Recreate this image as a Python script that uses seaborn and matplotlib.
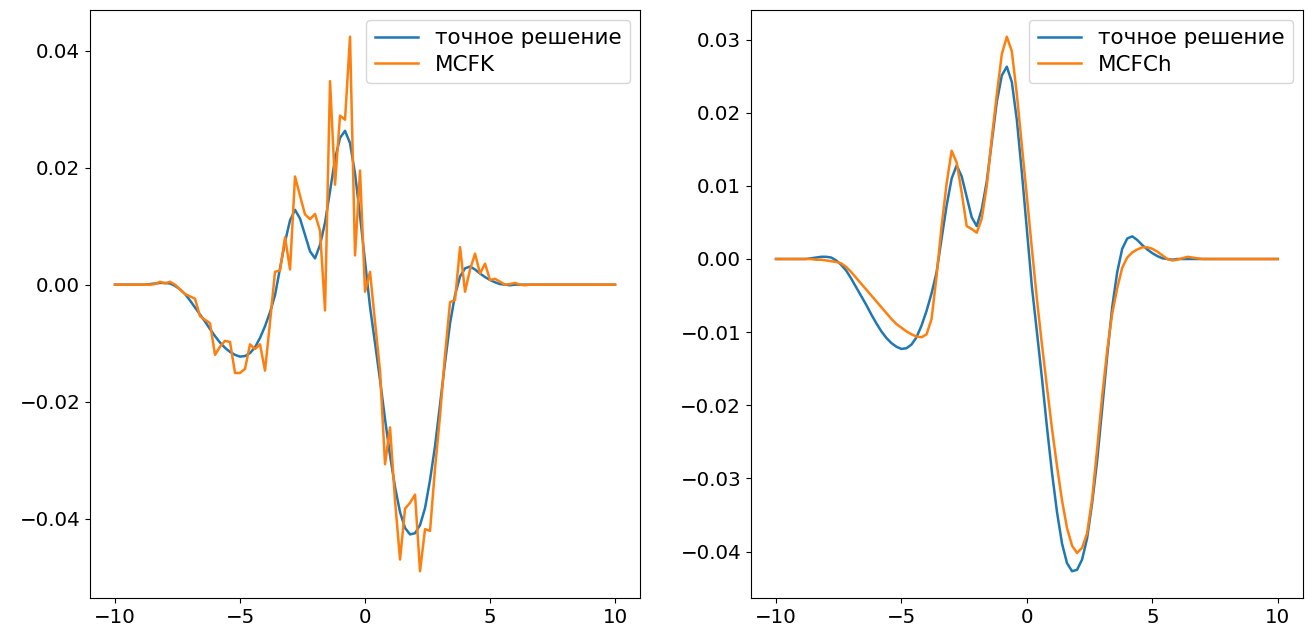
import numpy as np
import pandas as pd
import matplotlib
matplotlib.use("Agg")
import matplotlib.pyplot as plt
import seaborn as sns

# grid on [-10, 10] with step 0.2
x = np.round(np.linspace(-10, 10, 101), 2)

# exact solution
exact = [
    0, 0, 0, 0, 0, 0, 0, 0.0001, 0.0002, 0.0003,            # -10.0 .. -8.2
    0.0003, 0.0002, -0.0002, -0.0008, -0.0016, -0.0027,     # -8.0 .. -7.0
    -0.0039, -0.0051, -0.0063, -0.0076, -0.0088,            # -6.8 .. -6.0
    -0.0099, -0.0108, -0.0115, -0.0120, -0.0123,            # -5.8 .. -5.0
    -0.0122, -0.0117, -0.0107, -0.0091, -0.0071,            # -4.8 .. -4.0
    -0.0047, -0.0018, 0.0028, 0.0073, 0.0110,               # -3.8 .. -3.0
    0.0128, 0.0113, 0.0085, 0.0057, 0.0045,                 # -2.8 .. -2.0
    0.0068, 0.0106, 0.0160, 0.0215, 0.0251,                 # -1.8 .. -1.0
    0.0263, 0.0242, 0.0190, 0.0118, 0.0040,                 # -0.8 .. 0.0
    -0.0038, -0.0100, -0.0163, -0.0230, -0.0292,            # 0.2 .. 1.0
    -0.0346, -0.0389, -0.0416, -0.0427, -0.0425,            # 1.2 .. 2.0
    -0.0411, -0.0382, -0.0334, -0.0276, -0.0205,            # 2.2 .. 3.0
    -0.0133, -0.0066, -0.0018, 0.0014, 0.0028,              # 3.2 .. 4.0
    0.0031, 0.0026, 0.0019, 0.0013, 0.0008,                 # 4.2 .. 5.0
    0.0004, 0.0001, 0.0, -0.0001, 0.0,                      # 5.2 .. 6.0
    0, 0, 0, 0, 0, 0, 0, 0, 0, 0,                           # 6.2 .. 8.0
    0, 0, 0, 0, 0, 0, 0, 0, 0, 0,                           # 8.2 .. 10.0
]

# MCFK approximation
mcfk = [
    0, 0, 0, 0, 0, 0, 0, 0, 0.0001, 0.0005,                 # -10.0 .. -8.2
    0.0002, 0.0005, 0.0, -0.0008, -0.0016, -0.0020,         # -8.0 .. -7.0
    -0.0024, -0.0054, -0.0060, -0.0066, -0.0120,            # -6.8 .. -6.0
    -0.0106, -0.0096, -0.0098, -0.0151, -0.0151,            # -5.8 .. -5.0
    -0.0144, -0.0102, -0.0110, -0.0102, -0.0147,            # -4.8 .. -4.0
    -0.0064, 0.0022, 0.0024, 0.0081, 0.0026,                # -3.8 .. -3.0
    0.0185, 0.0152, 0.0120, 0.0112, 0.0121,                 # -2.8 .. -2.0
    0.0092, -0.0044, 0.0348, 0.0171, 0.0289,                # -1.8 .. -1.0
    0.0282, 0.0424, 0.0050, 0.0195, -0.0012,                # -0.8 .. 0.0
    0.0022, -0.0064, -0.0147, -0.0307, -0.0244,             # 0.2 .. 1.0
    -0.0369, -0.0470, -0.0383, -0.0373, -0.0359,            # 1.2 .. 2.0
    -0.0490, -0.0418, -0.0421, -0.0314, -0.0224,            # 2.2 .. 3.0
    -0.0120, -0.0030, -0.0026, 0.0064, -0.0012,             # 3.2 .. 4.0
    0.0026, 0.0053, 0.0019, 0.0036, 0.0008,                 # 4.2 .. 5.0
    0.0010, 0.0005, 0.0, 0.0001, 0.0003,                    # 5.2 .. 6.0
    0.0, -0.0001, 0, 0, 0, 0, 0, 0, 0, 0,                   # 6.2 .. 8.0
    0, 0, 0, 0, 0, 0, 0, 0, 0, 0,                           # 8.2 .. 10.0
]

# MCFCh approximation
mcfch = [
    0, 0, 0, 0, 0, 0, 0, 0, -0.0001, -0.0001,               # -10.0 .. -8.2
    -0.0002, -0.0003, -0.0004, -0.0006, -0.0011, -0.0018,   # -8.0 .. -7.0
    -0.0026, -0.0034, -0.0042, -0.0050, -0.0058,            # -6.8 .. -6.0
    -0.0066, -0.0074, -0.0082, -0.0089, -0.0094,            # -5.8 .. -5.0
    -0.0099, -0.0103, -0.0106, -0.0107, -0.0103,            # -4.8 .. -4.0
    -0.0082, -0.0023, 0.0045, 0.0103, 0.0148,               # -3.8 .. -3.0
    0.0132, 0.0091, 0.0045, 0.0041, 0.0036,                 # -2.8 .. -2.0
    0.0055, 0.0100, 0.0165, 0.0225, 0.0280,                 # -1.8 .. -1.0
    0.0304, 0.0284, 0.0225, 0.0155, 0.0085,                 # -0.8 .. 0.0
    0.0014, -0.0055, -0.0117, -0.0175, -0.0232,             # 0.2 .. 1.0
    -0.0283, -0.0330, -0.0368, -0.0392, -0.0402,            # 1.2 .. 2.0
    -0.0395, -0.0375, -0.0328, -0.0260, -0.0188,            # 2.2 .. 3.0
    -0.0125, -0.0075, -0.0040, -0.0012, 0.0002,             # 3.2 .. 4.0
    0.0009, 0.0013, 0.0016, 0.0016, 0.0014,                 # 4.2 .. 5.0
    0.0010, 0.0005, 0.0, -0.0002, -0.0001,                  # 5.2 .. 6.0
    0.0001, 0.0003, 0.0002, 0.0001, 0, 0, 0, 0, 0, 0,       # 6.2 .. 8.0
    0, 0, 0, 0, 0, 0, 0, 0, 0, 0,                           # 8.2 .. 10.0
]

exact_label = "точное решение"
panels = [("MCFK", mcfk), ("MCFCh", mcfch)]
colors = ["#1f77b4", "#ff7f0e"]

plt.rcParams["font.family"] = ["DejaVu Sans"]
plt.rcParams["font.size"] = 14

fig = plt.figure(figsize=(13.14, 6.39), dpi=100)
rects = [[0.0685, 0.0642, 0.4186, 0.9202], [0.5715, 0.0642, 0.4200, 0.9202]]

for rect, (name, approx) in zip(rects, panels):
    ax = fig.add_axes(rect)
    df = pd.DataFrame({
        "x": np.concatenate([x, x]),
        "y": np.concatenate([exact, approx]),
        "series": [exact_label] * len(x) + [name] * len(x),
    })
    sns.lineplot(data=df, x="x", y="y", hue="series", palette=colors,
                 estimator=None, errorbar=None, sort=False, linewidth=1.8, ax=ax)
    ax.set_xlabel("")
    ax.set_ylabel("")
    ax.set_xticks([-10, -5, 0, 5, 10])
    ax.tick_params(labelsize=14.3)
    handles, labels = ax.get_legend_handles_labels()
    ax.legend(handles, labels, loc="upper right", fontsize=15.5,
              labelspacing=0.3, borderaxespad=0.45)

fig.savefig("out.png", dpi=100)
